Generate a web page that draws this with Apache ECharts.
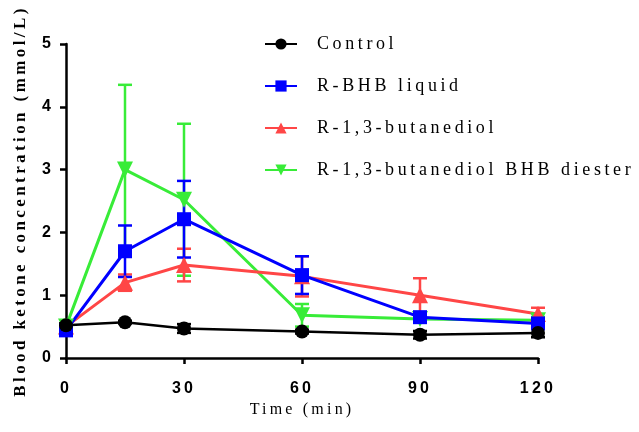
<!DOCTYPE html>
<html>
<head>
<meta charset="utf-8">
<script src="https://cdn.jsdelivr.net/npm/echarts@6/dist/echarts.min.js"></script>
<style>
  html, body { margin: 0; padding: 0; background: #fff; }
  #Chart { width: 639px; height: 432px; }
</style>
</head>
<body>
<div id="Chart"></div>
<script>
// time points (min)
var times = [0, 15, 30, 60, 90, 120];
var xTicks = [0, 30, 60, 90, 120];
var yTicks = [0, 1, 2, 3, 4, 5];

var names = ['Control', 'R-BHB liquid', 'R-1,3-butanediol', 'R-1,3-butanediol BHB diester'];

// mean values
var control = [0.52, 0.57, 0.47, 0.42, 0.37, 0.40];
var bhb = [0.44, 1.70, 2.21, 1.32, 0.65, 0.55];
var diol = [0.50, 1.20, 1.48, 1.30, 1.00, 0.70];
var diester = [0.50, 3.00, 2.52, 0.68, 0.62, 0.60];

// error (SD)
var controlErr = [0.03, 0.02, 0.07, 0.03, 0.06, 0.07];
var bhbErr = [0.05, 0.41, 0.61, 0.30, 0.08, 0.06];
var diolErr = [0.05, 0.13, 0.26, 0.32, 0.27, 0.10];
var diesterErr = [0.05, 1.35, 1.21, 0.18, 0.05, 0.05];

var colors = ['#000000', '#0000ff', '#ff4646', '#38ec38'];
var symbols = ['circle', 'rect', 'triangle', 'path://M0,0 L10,0 L5,9 Z'];
var means = [control, bhb, diol, diester];
var errs = [controlErr, bhbErr, diolErr, diesterErr];

// the original figure has spaced-out lettering: add letter spacing (0.2em) when text is drawn
var origFill = CanvasRenderingContext2D.prototype.fillText;
CanvasRenderingContext2D.prototype.fillText = function (t, x, y, m) {
    var mm = /(\d+(\.\d+)?)px/.exec(this.font || '');
    if (mm && 'letterSpacing' in this) {
        var prev = this.letterSpacing;
        this.letterSpacing = (parseFloat(mm[1]) * 0.2).toFixed(1) + 'px';
        origFill.call(this, t, x, y, m);
        this.letterSpacing = prev;
    } else {
        origFill.call(this, t, x, y, m);
    }
};

var myChart = echarts.init(document.getElementById('Chart'));

function pairs(arr) {
    return times.map(function (t, i) { return [t, arr[i]]; });
}
function errData(m, e) {
    return times.map(function (t, i) { return [t, m[i] - e[i], m[i] + e[i]]; });
}

var series = [];
// draw order: diester, diol, bhb, control
[3, 2, 1, 0].forEach(function (k) {
    var col = colors[k];
    series.push({
        type: 'custom',
        name: names[k] + ' SD',
        data: errData(means[k], errs[k]),
        z: 2,
        itemStyle: { color: col },
        renderItem: function (params, api) {
            var lo = api.coord([api.value(0), api.value(1)]);
            var hi = api.coord([api.value(0), api.value(2)]);
            var w = 7;
            var st = { stroke: col, lineWidth: 2.5 };
            return {
                type: 'group',
                children: [
                    { type: 'line', shape: { x1: lo[0], y1: lo[1], x2: hi[0], y2: hi[1] }, style: st },
                    { type: 'line', shape: { x1: lo[0] - w, y1: lo[1], x2: lo[0] + w, y2: lo[1] }, style: st },
                    { type: 'line', shape: { x1: hi[0] - w, y1: hi[1], x2: hi[0] + w, y2: hi[1] }, style: st }
                ]
            };
        }
    });
    series.push({
        type: 'line',
        name: names[k],
        data: pairs(means[k]),
        z: 3,
        symbol: symbols[k],
        symbolSize: k === 0 ? 14 : (k === 1 ? 14 : 16),
        showSymbol: true,
        itemStyle: { color: col, opacity: 1 },
        lineStyle: { color: col, width: k === 0 ? 2.5 : 3 }
    });
});

var option = {
    animation: false,
    backgroundColor: '#fff',
    grid: { left: 66, right: 101, top: 44, bottom: 74 },
    legend: {
        data: names,
        orient: 'vertical',
        left: 259,
        top: 30,
        itemWidth: 32,
        itemHeight: 14,
        itemGap: 24,
        textStyle: {
            fontFamily: 'Liberation Serif',
            fontSize: 18,
            color: '#000',
            padding: [0, 0, 0, 15]
        }
    },
    xAxis: {
        type: 'value',
        min: 0,
        max: 120,
        interval: 30,
        name: 'Time (min)',
        nameLocation: 'middle',
        nameGap: 37,
        nameTextStyle: { fontFamily: 'Liberation Serif', fontSize: 16, color: '#000' },
        axisLine: { lineStyle: { color: '#000', width: 2.5 } },
        axisTick: { show: true, length: 6, lineStyle: { color: '#000', width: 2.5 } },
        axisLabel: {
            margin: 23,
            fontFamily: 'Liberation Sans',
            fontWeight: 'bold',
            fontSize: 16,
            color: '#000',
            formatter: function (v) { return xTicks.indexOf(v) >= 0 ? String(v) : ''; }
        },
        splitLine: { show: false }
    },
    yAxis: {
        type: 'value',
        min: 0,
        max: 5,
        interval: 1,
        name: 'Blood ketone concentration (mmol/L)',
        nameLocation: 'middle',
        nameGap: 37,
        nameTextStyle: { fontFamily: 'Liberation Serif', fontWeight: 'bold', fontSize: 17, color: '#000' },
        axisLine: { show: true, lineStyle: { color: '#000', width: 2.5 } },
        axisTick: { show: true, length: 6, lineStyle: { color: '#000', width: 2.5 } },
        axisLabel: {
            margin: 12,
            fontFamily: 'Liberation Sans',
            fontWeight: 'bold',
            fontSize: 16,
            color: '#000',
            formatter: function (v) { return yTicks.indexOf(v) >= 0 ? String(v) : ''; }
        },
        splitLine: { show: false }
    },
    series: series
};

myChart.setOption(option);
</script>
</body>
</html>
